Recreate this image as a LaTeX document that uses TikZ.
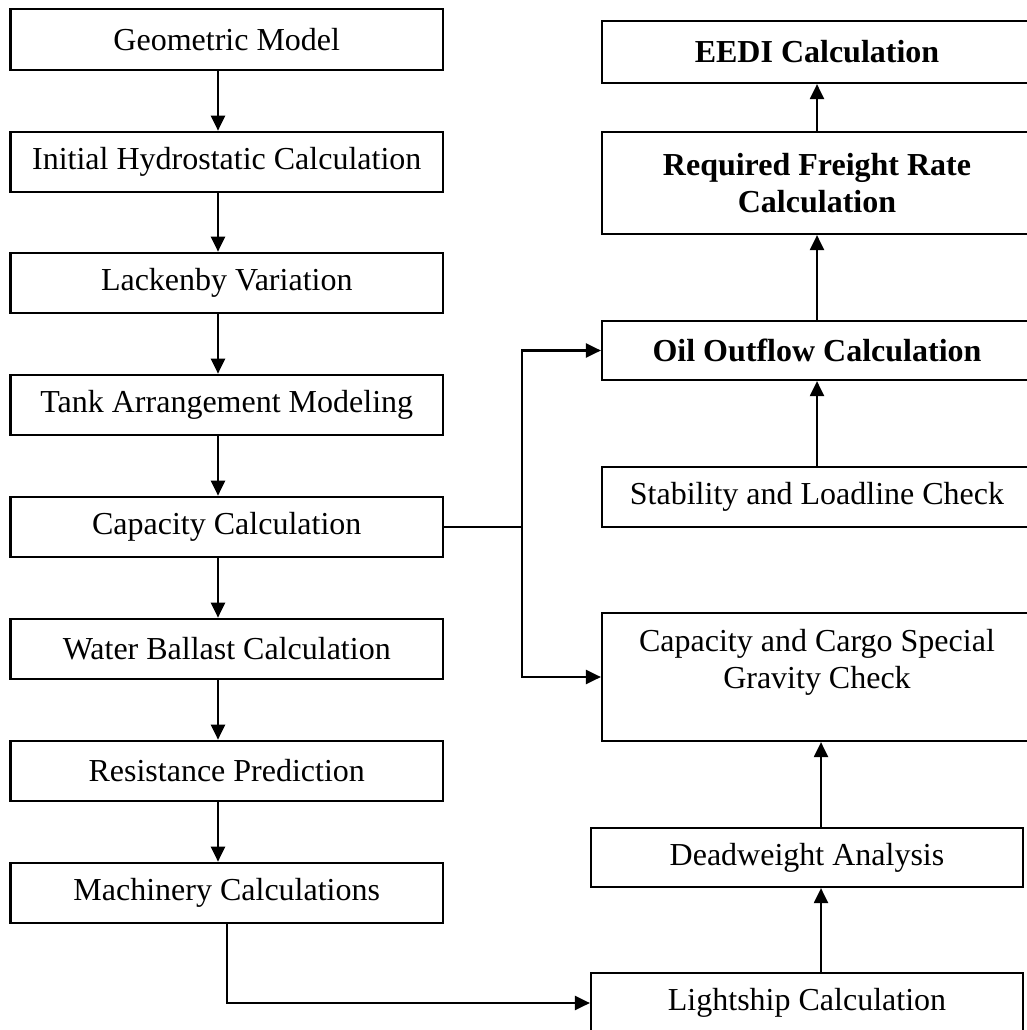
\documentclass[tikz,border=0pt]{standalone}
\usepackage{fontspec}
\setmainfont{Liberation Serif}
\usetikzlibrary{arrows.meta}
\begin{document}
\begin{tikzpicture}[x=1pt,y=-1pt,
  box/.style={draw=black,line width=2.2pt,inner sep=0pt,align=center,
    font=\fontsize{32}{37}\selectfont},
  lbox/.style={box,minimum width=432.5pt,minimum height=60.5pt},
  rbox/.style={box,minimum width=430pt},
  arr/.style={line width=2.2pt,-{Triangle[length=15pt,width=14pt]}},
  ln/.style={line width=2.2pt}]
\useasboundingbox (0,0) rectangle (1027,1030);
% left column
\node[lbox] (gm) at (226.75,39.5) {Geometric Model};
\node[lbox] (ih) at (226.75,162) {Initial Hydrostatic Calculation};
\node[lbox] (lv) at (226.75,283) {Lackenby Variation};
\node[lbox] (ta) at (226.75,405) {Tank Arrangement Modeling};
\node[lbox] (cc) at (226.75,527) {Capacity Calculation};
\node[lbox] (wb) at (226.75,649) {Water Ballast Calculation};
\node[lbox] (rp) at (226.75,771) {Resistance Prediction};
\node[lbox] (mc) at (226.75,893) {Machinery Calculations};
% right column
\node[rbox,minimum height=62pt] (eedi) at (817,52) {\bfseries EEDI Calculation};
\node[rbox,minimum height=102pt] (rfr) at (817,183) {\bfseries Required Freight Rate\\\bfseries Calculation};
\node[rbox,minimum height=59pt] (oo) at (817,350.5) {\bfseries Oil Outflow Calculation};
\node[rbox,minimum height=60pt] (sl) at (817,497) {Stability and Loadline Check};
\node[rbox,minimum height=128pt] (ccsg) at (817,677) {};
\node[box,draw=none] (ccsgt) at ([yshift=15]ccsg.center) {Capacity and Cargo Special\\Gravity Check};
\node[box,minimum width=432pt,minimum height=59pt] (da) at (807,857.5) {Deadweight Analysis};
\node[box,minimum width=432pt,minimum height=60pt] (lc) at (807,1003) {Lightship Calculation};
% left arrows
\foreach \a/\b in {gm/ih,ih/lv,lv/ta,ta/cc,cc/wb,wb/rp,rp/mc}
  \draw[arr] ([xshift=-8.75]\a.south) -- ([xshift=-8.75]\b.north);
% right arrows
\draw[arr] (rfr.north) -- (eedi.south);
\draw[arr] (oo.north) -- (rfr.south);
\draw[arr] (sl.north) -- (oo.south);
\draw[arr] ([xshift=14]da.north) -- ([xshift=14]da.north |- ccsg.south);
\draw[arr] ([xshift=14]lc.north) -- ([xshift=14]da.south);
% branch
\coordinate (j) at (522,527);
\draw[ln] (cc.east) -- (j);
\draw[arr] (j) |- (oo.west);
\draw[arr] (j) |- (ccsg.west);
\draw[arr] (mc.south) |- (lc.west);
\end{tikzpicture}
\end{document}
